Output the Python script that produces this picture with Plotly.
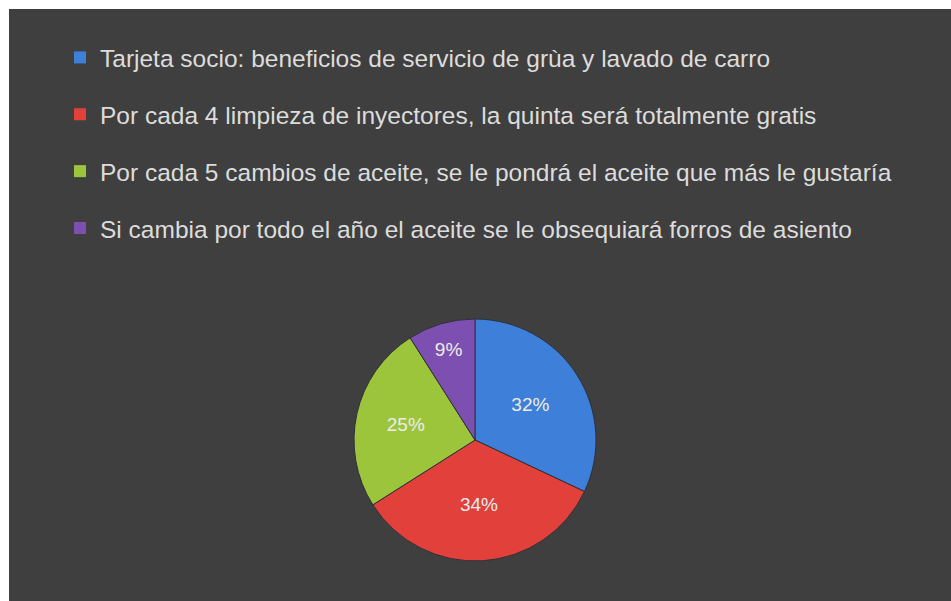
import plotly.graph_objects as go

categories = [
    "Tarjeta socio: beneficios de servicio de grùa y lavado de carro",
    "Por cada 4 limpieza de inyectores, la quinta será totalmente gratis",
    "Por cada 5 cambios de aceite, se le pondrá el aceite que más le gustaría",
    "Si cambia por todo el año el aceite se le obsequiará forros de asiento",
]
values = [32, 34, 25, 9]
colors = ["#3d7fd9", "#e2403b", "#9cc53c", "#7d4fb0"]

W, H = 951, 601
ML, MT = 9, 9
PW, PH = W - ML, H - MT


def px_x(page_x):
    return (page_x - ML) / PW


def px_y(page_y):
    return (H - page_y) / PH


fig = go.Figure()

cx, cy, r = 475, 440, 121
fig.add_trace(go.Pie(
    labels=categories,
    values=values,
    sort=False,
    direction="clockwise",
    rotation=0,
    marker=dict(colors=colors, line=dict(color="#30303a", width=1)),
    texttemplate="%{percent:.0%}",
    textposition="inside",
    insidetextorientation="horizontal",
    textfont=dict(family="Liberation Sans, Arial", size=19, color="#ececec"),
    showlegend=False,
    hoverinfo="label+percent",
    domain=dict(x=[px_x(cx - r), px_x(cx + r)], y=[px_y(cy + r), px_y(cy - r)]),
))

for i, (cat, col) in enumerate(zip(categories, colors)):
    fig.add_trace(go.Scatter(
        x=[None], y=[None], mode="markers", name=cat,
        marker=dict(symbol="square", size=9, color=col),
        legendgroup=f"g{i}", showlegend=True,
    ))

fig.add_shape(type="rect", xref="paper", yref="paper", x0=0, x1=1, y0=0, y1=1,
              fillcolor="#3f3f3f", line=dict(width=0), layer="below")

fig.update_layout(
    width=W, height=H,
    margin=dict(l=ML, r=0, t=MT, b=0),
    paper_bgcolor="white",
    plot_bgcolor="rgba(0,0,0,0)",
    xaxis=dict(visible=False),
    yaxis=dict(visible=False),
    legend=dict(
        x=px_x(60), y=px_y(35), xanchor="left", yanchor="top",
        bgcolor="rgba(0,0,0,0)",
        font=dict(family="Liberation Sans, Arial", size=24.5, color="#dcdcdc"),
        tracegroupgap=22,
        itemsizing="constant",
    ),
)

fig.write_html(
    "out.html",
    default_width=f"{W}px",
    default_height=f"{H}px",
    config={"responsive": False, "displayModeBar": False},
    post_script="document.body.style.margin='0';document.documentElement.style.overflow='hidden';document.body.style.overflow='hidden';",
)
